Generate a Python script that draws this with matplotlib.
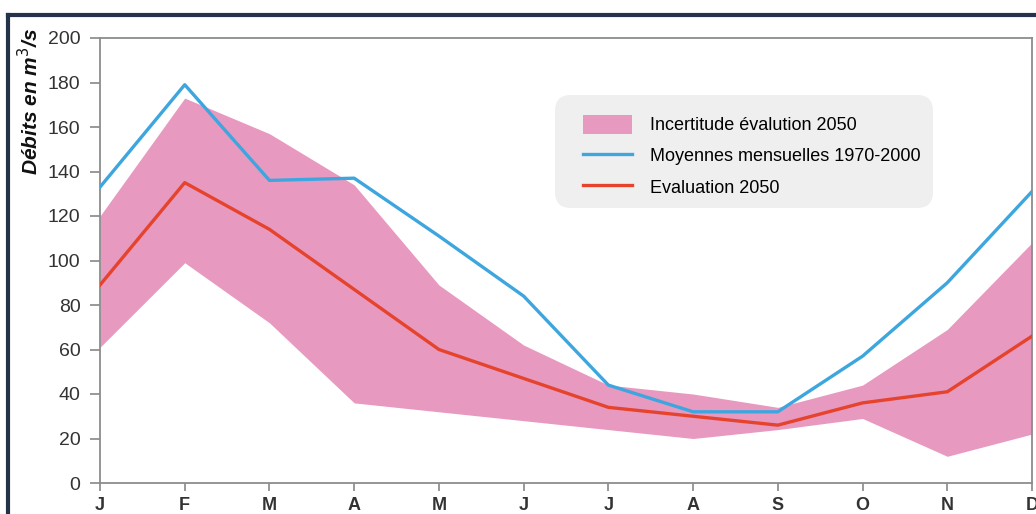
import matplotlib
matplotlib.use("Agg")
import matplotlib.pyplot as plt
from matplotlib.lines import Line2D
from matplotlib.patches import Patch, FancyBboxPatch

months = ['J', 'F', 'M', 'A', 'M', 'J', 'J', 'A', 'S', 'O', 'N', 'D']
moyennes = [133, 179, 136, 137, 111, 84, 44, 32, 32, 57, 90, 131]
evaluation = [89, 135, 114, 87, 60, 47, 34, 30, 26, 36, 41, 66]
incert_haut = [120, 173, 157, 134, 89, 62, 44, 40, 34, 44, 69, 108]
incert_bas = [61, 99, 72, 36, 32, 28, 24, 20, 24, 29, 12, 22]

plt.rcParams['font.family'] = ['Liberation Sans', 'DejaVu Sans']

fig = plt.figure(figsize=(10.36, 5.14), dpi=100)
ax = fig.add_axes([100/1036, 1 - 483/514, 932/1036, 445/514])

x = range(len(months))
ax.fill_between(x, incert_bas, incert_haut, color='#e899c0', lw=0, zorder=1)
ax.plot(x, moyennes, color='#3ea6df', lw=2.4, zorder=3)
ax.plot(x, evaluation, color='#e6432d', lw=2.4, zorder=3)

ax.set_xlim(0, 11)
ax.set_ylim(0, 200)
ax.set_xticks(list(x))
ax.set_xticklabels(months, fontsize=13, fontweight='bold', color='#333333')
ax.set_yticks(range(0, 201, 20))
ax.tick_params(axis='y', labelsize=14, colors='#333333', length=7, width=1.2,
               color='#888888', pad=7)
ax.tick_params(axis='x', length=6, width=1.2, color='#888888', pad=4)
for s in ax.spines.values():
    s.set_color('#8c8c8c')
    s.set_linewidth(1.3)

# fond de la légende
box = FancyBboxPatch((455/932, (483-208)/445), 378/932, 113/445,
                     boxstyle='round,pad=0,rounding_size=0.017', mutation_aspect=932/445,
                     transform=ax.transAxes, facecolor='#efefef', edgecolor='none', zorder=4)
ax.add_patch(box)

handles = [Patch(facecolor='#e899c0', edgecolor='none'),
           Line2D([], [], color='#3ea6df', lw=2.4),
           Line2D([], [], color='#e6432d', lw=2.4)]
labels = ['Incertitude évalution 2050', 'Moyennes mensuelles 1970-2000', 'Evaluation 2050']
leg = ax.legend(handles, labels, loc='upper left', bbox_to_anchor=(483/932, 1 - 77/445),
                fontsize=13, frameon=False, handlelength=2.7,
                handleheight=1.2, labelspacing=0.65, borderpad=0, handletextpad=1.0,
                borderaxespad=0)
leg.set_zorder(5)

fig.text(30/1036, 1 - 28/514, 'Débits en m$^3$/s', rotation=90, ha='center', va='top',
         fontsize=15, fontweight='bold', fontstyle='italic', color='#111111')

# cadre sombre
fig.add_artist(Line2D([8/1036, 1], [1 - 15/514, 1 - 15/514], color='#24334a', lw=3))
fig.add_artist(Line2D([8/1036, 8/1036], [0, 1 - 15/514], color='#24334a', lw=3))

fig.savefig('out.png', dpi=100)
